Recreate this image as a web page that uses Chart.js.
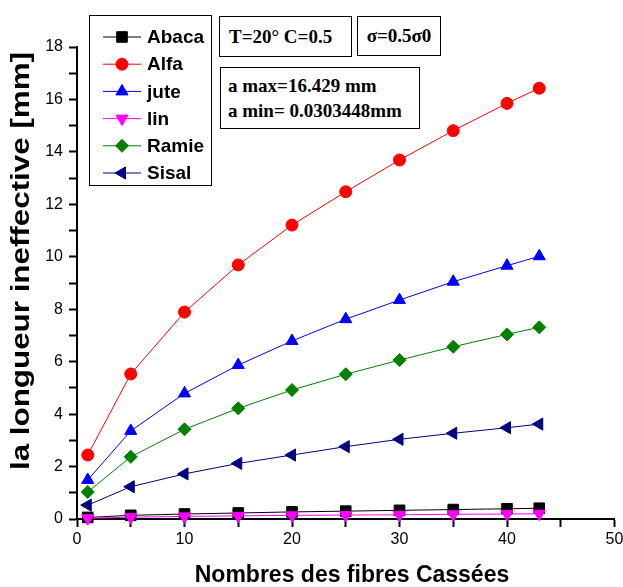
<!DOCTYPE html>
<html>
<head>
<meta charset="utf-8">
<title>Longueur ineffective</title>
<script src="https://cdn.jsdelivr.net/npm/chart.js@4/dist/chart.umd.min.js"></script>
<style>
  body { margin: 0; background: #fff; }
  #wrap { position: relative; width: 623px; height: 587px; }
  .note {
    position: absolute;
    box-sizing: border-box;
    border: 1px solid #000;
    background: #fff;
    font: bold 19px "Liberation Serif", "Times New Roman", serif;
    color: #000;
    white-space: nowrap;
  }
</style>
</head>
<body>
<div id="wrap">
  <canvas id="fibreChart" width="623" height="587"></canvas>
  <div class="note" style="left:219px;top:16px;width:133px;height:41px;line-height:39px;padding-left:9px">T=20° C=0.5</div>
  <div class="note" style="left:357px;top:16px;width:84px;height:40px;line-height:38px;text-align:center">σ=0.5σ0</div>
  <div class="note" style="left:220px;top:67px;width:200px;height:62px;line-height:25px;padding:5px 0 0 7px">a max=16.429 mm<br>a min= 0.0303448mm</div>
</div>
<script>
// nombre de fibres cassées
const fibres = [1, 5, 10, 15, 20, 25, 30, 35, 40, 43];

// longueur ineffective (mm) par fibre
const abaca = [0.06, 0.14, 0.19, 0.23, 0.27, 0.30, 0.33, 0.36, 0.39, 0.41];
const alfa  = [2.44, 5.53, 7.89, 9.69, 11.21, 12.48, 13.69, 14.81, 15.85, 16.429];
const jute  = [1.49, 3.36, 4.79, 5.87, 6.79, 7.62, 8.35, 9.05, 9.66, 10.02];
const lin   = [0.0303, 0.07, 0.10, 0.12, 0.14, 0.15, 0.16, 0.18, 0.19, 0.20];
const ramie = [1.03, 2.37, 3.42, 4.22, 4.92, 5.52, 6.06, 6.57, 7.04, 7.31];
const sisal = [0.53, 1.23, 1.72, 2.12, 2.44, 2.76, 3.04, 3.27, 3.48, 3.62];

const xLabels = [0, 10, 20, 30, 40, 50];
const yLabels = [0, 2, 4, 6, 8, 10, 12, 14, 16, 18];

const FONT = 'Arial, "Liberation Sans", sans-serif';

function pts(values) {
  return fibres.map((x, i) => ({ x: x, y: values[i] }));
}

function serie(label, values, color, style, radius, rotation, order) {
  return {
    label: label,
    data: pts(values),
    borderColor: color,
    backgroundColor: color,
    borderWidth: 1,
    pointStyle: style,
    pointRadius: radius,
    pointRotation: rotation,
    pointBorderWidth: 1,
    pointHoverRadius: radius,
    tension: 0,
    clip: false,
    order: order
  };
}

// legend box + axis titles, drawn over the chart
const decor = {
  id: 'decor',
  afterDraw(chart) {
    const ctx = chart.ctx;
    ctx.save();

    // legende
    ctx.strokeStyle = '#000';
    ctx.lineWidth = 1;
    ctx.strokeRect(89.5, 15.5, 122, 170);
    chart.data.datasets.forEach((ds, i) => {
      const y = 37 + i * 27.2;
      ctx.strokeStyle = ds.borderColor;
      ctx.lineWidth = 1;
      ctx.beginPath();
      ctx.moveTo(103, y);
      ctx.lineTo(141, y);
      ctx.stroke();
      ctx.fillStyle = ds.backgroundColor;
      Chart.helpers.drawPoint(ctx, {
        pointStyle: ds.pointStyle,
        radius: ds.pointRadius,
        rotation: ds.pointRotation,
        borderWidth: 1
      }, 122, y);
      ctx.fillStyle = '#000';
      ctx.font = 'bold 19px ' + FONT;
      ctx.textAlign = 'left';
      ctx.textBaseline = 'middle';
      ctx.fillText(ds.label, 147, y + 1);
    });

    // titre axe x
    ctx.fillStyle = '#000';
    ctx.font = 'bold 23px ' + FONT;
    ctx.textAlign = 'center';
    ctx.textBaseline = 'alphabetic';
    ctx.fillText('Nombres des fibres Cassées', 352, 582);

    // titre axe y (étiré sur la hauteur)
    const yTitle = 'la longueur ineffective [mm]';
    ctx.translate(22, 261);
    ctx.rotate(-Math.PI / 2);
    ctx.font = 'bold 25px ' + FONT;
    const w = ctx.measureText(yTitle).width;
    ctx.scale(418 / w, 1);
    ctx.textBaseline = 'middle';
    ctx.fillText(yTitle, 0, 0);

    ctx.restore();
  }
};

const ctx = document.getElementById('fibreChart').getContext('2d');

const fibreChart = new Chart(ctx, {
  type: 'line',
  data: {
    datasets: [
      serie('Abaca', abaca, '#000000', 'rect', 7.5, 0, 2),
      serie('Alfa', alfa, '#ff0000', 'circle', 6, 0, 1),
      serie('jute', jute, '#0000ff', 'triangle', 7, 0, 1),
      serie('lin', lin, '#ff00ff', 'triangle', 7, 180, 1),
      serie('Ramie', ramie, '#008000', 'rectRot', 6.5, 0, 1),
      serie('Sisal', sisal, '#000080', 'triangle', 7, -90, 1)
    ]
  },
  options: {
    responsive: false,
    animation: false,
    events: [],
    layout: { padding: { top: 47, right: 3, left: 0, bottom: 0 } },
    plugins: {
      legend: { display: false },
      tooltip: { enabled: false }
    },
    scales: {
      x: {
        type: 'linear',
        min: 0,
        max: 50,
        border: { display: true, color: '#000', width: 2 },
        grid: { drawOnChartArea: false, drawTicks: true, tickLength: 8, tickColor: '#000', tickWidth: 2 },
        ticks: {
          stepSize: 5,
          autoSkip: false,
          maxRotation: 0,
          padding: 3,
          color: '#000',
          font: { family: FONT, size: 16 },
          callback: (v) => xLabels.includes(v) ? String(v) : ''
        },
        afterFit(scale) {
          scale.height = 68;
          scale.paddingLeft = 0;
          scale.paddingRight = 0;
        }
      },
      y: {
        min: 0,
        max: 18,
        border: { display: true, color: '#000', width: 2 },
        grid: { drawOnChartArea: false, drawTicks: true, tickLength: 8, tickColor: '#000', tickWidth: 2 },
        ticks: {
          stepSize: 1,
          autoSkip: false,
          padding: 6,
          color: '#000',
          font: { family: FONT, size: 16 },
          callback: (v) => yLabels.includes(v) ? String(v) : ''
        },
        afterFit(scale) {
          scale.width = 77;
          scale.paddingTop = 0;
          scale.paddingBottom = 0;
        }
      }
    }
  },
  plugins: [decor]
});
</script>
</body>
</html>
